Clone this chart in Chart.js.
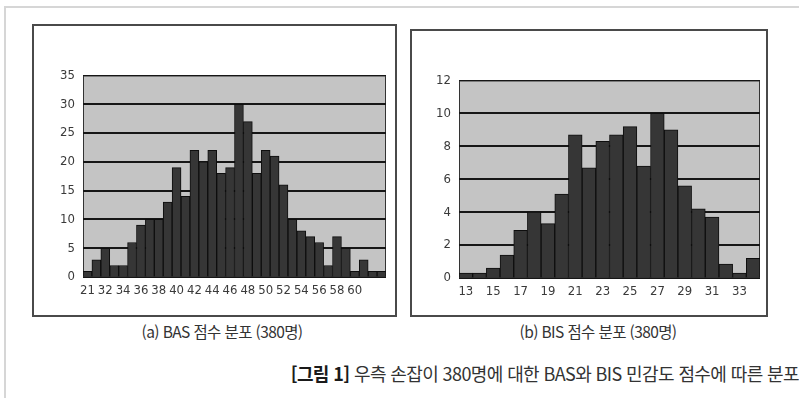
<!DOCTYPE html>
<html lang="ko">
<head>
<meta charset="utf-8">
<script src="https://cdn.jsdelivr.net/npm/chart.js@4.4.1/dist/chart.umd.min.js"></script>
<style>
  html, body { margin: 0; padding: 0; background: #ffffff; }
  body { width: 799px; height: 398px; position: relative; overflow: hidden; }
  .pageTop { position: absolute; left: 4px; top: 6px; width: 800px; height: 2px; background: #d6d6d6; }
  .pageLeft { position: absolute; left: 4px; top: 6px; width: 2px; height: 400px; background: #d6d6d6; }
  .frame { position: absolute; border: 2px solid #4a4a4a; box-sizing: border-box; }
  canvas { position: absolute; }
  .cap { position: absolute; font-family: "Noto Sans CJK KR", "Noto Sans", sans-serif; color: #333; white-space: nowrap; }
</style>
</head>
<body>
<div class="pageTop"></div>
<div class="pageLeft"></div>
<div class="frame" style="left:32px;top:24px;width:365px;height:293px;"></div>
<div class="frame" style="left:410px;top:29px;width:358px;height:288px;"></div>
<canvas id="basChart" width="361" height="290" style="left:34px;top:26px;"></canvas>
<canvas id="bisChart" width="354" height="285" style="left:412px;top:31px;"></canvas>
<div class="cap" id="capA" style="left:122px;top:320px;width:200px;text-align:center;font-size:15.5px;letter-spacing:-0.6px;">(a) BAS 점수 분포 (380명)</div>
<div class="cap" id="capB" style="left:498px;top:320px;width:200px;text-align:center;font-size:15.5px;letter-spacing:-0.6px;">(b) BIS 점수 분포 (380명)</div>
<div class="cap" id="capMain" style="right:0px;top:360px;font-size:18px;letter-spacing:-0.6px;"><b style="color:#1a1a1a">[그림 1]</b> 우측 손잡이 380명에 대한 BAS와 BIS 민감도 점수에 따른 분포</div>
<script>
// ---- data ----
const basTickLabels = ['21','','32','','34','','36','','38','','40','','42','','44','','46','','48','','50','','52','','54','','56','','58','','60','','',''];
const basCounts = [1,3,5,2,2,6,9,10,10,13,19,14,22,20,22,18,19,30,27,18,22,21,16,10,8,7,6,2,7,5,1,3,1,1];
const basYMax = 35;
const basYStep = 5;

const bisTickLabels = ['13','','15','','17','','19','','21','','23','','25','','27','','29','','31','','33',''];
const bisCounts = [0.3,0.3,0.6,1.4,2.9,4.0,3.3,5.1,8.7,6.7,8.3,8.7,9.2,6.8,10.0,9.0,5.6,4.2,3.7,0.85,0.3,1.2];
const bisYMax = 12;
const bisYStep = 2;

// ---- rendering ----
const tickFont = { family: "'Liberation Sans Narrow', 'DejaVu Sans Condensed', 'Liberation Sans', sans-serif", size: 13 };

const plotBg = {
  id: 'plotBg',
  beforeDraw(chart) {
    const { ctx, chartArea: a } = chart;
    ctx.save();
    ctx.fillStyle = '#c4c4c4';
    ctx.fillRect(a.left, a.top, a.right - a.left, a.bottom - a.top);
    ctx.strokeStyle = '#333333';
    ctx.lineWidth = 1;
    ctx.strokeRect(a.left + 0.5, a.top + 0.5, a.right - a.left - 1, a.bottom - a.top - 1);
    ctx.restore();
  }
};

function makeChart(id, labels, counts, yMax, yStep, yWidth, xHeight, pad) {
  return new Chart(document.getElementById(id), {
    type: 'bar',
    data: {
      labels: labels,
      datasets: [{
        data: counts,
        backgroundColor: '#363636',
        borderColor: '#0e0e0e',
        borderWidth: 1,
        barPercentage: 1.0,
        categoryPercentage: 1.0
      }]
    },
    options: {
      responsive: false,
      animation: false,
      devicePixelRatio: 1,
      layout: { padding: pad },
      plugins: { legend: { display: false }, tooltip: { enabled: false }, title: { display: false } },
      scales: {
        x: {
          offset: true,
          grid: { display: false, drawTicks: false },
          border: { display: false },
          ticks: { autoSkip: false, maxRotation: 0, minRotation: 0, padding: 6, color: '#3a3a3a', font: tickFont },
          afterFit(scale) { scale.height = xHeight; }
        },
        y: {
          min: 0, max: yMax,
          grid: {
            color: '#161616',
            lineWidth: (c) => (c.tick && (c.tick.value === yMax || c.tick.value === 0)) ? 1 : 2,
            drawTicks: false
          },
          border: { display: false },
          ticks: { stepSize: yStep, padding: 8, color: '#3a3a3a', font: tickFont },
          afterFit(scale) { scale.width = yWidth; }
        }
      }
    },
    plugins: [plotBg]
  });
}

makeChart('basChart', basTickLabels, basCounts, basYMax, basYStep, 49, 39, { left: 0, right: 9, top: 49.5, bottom: 0 });
makeChart('bisChart', bisTickLabels, bisCounts, bisYMax, bisYStep, 47, 38, { left: 0, right: 6, top: 49.5, bottom: 0 });
</script>
</body>
</html>
